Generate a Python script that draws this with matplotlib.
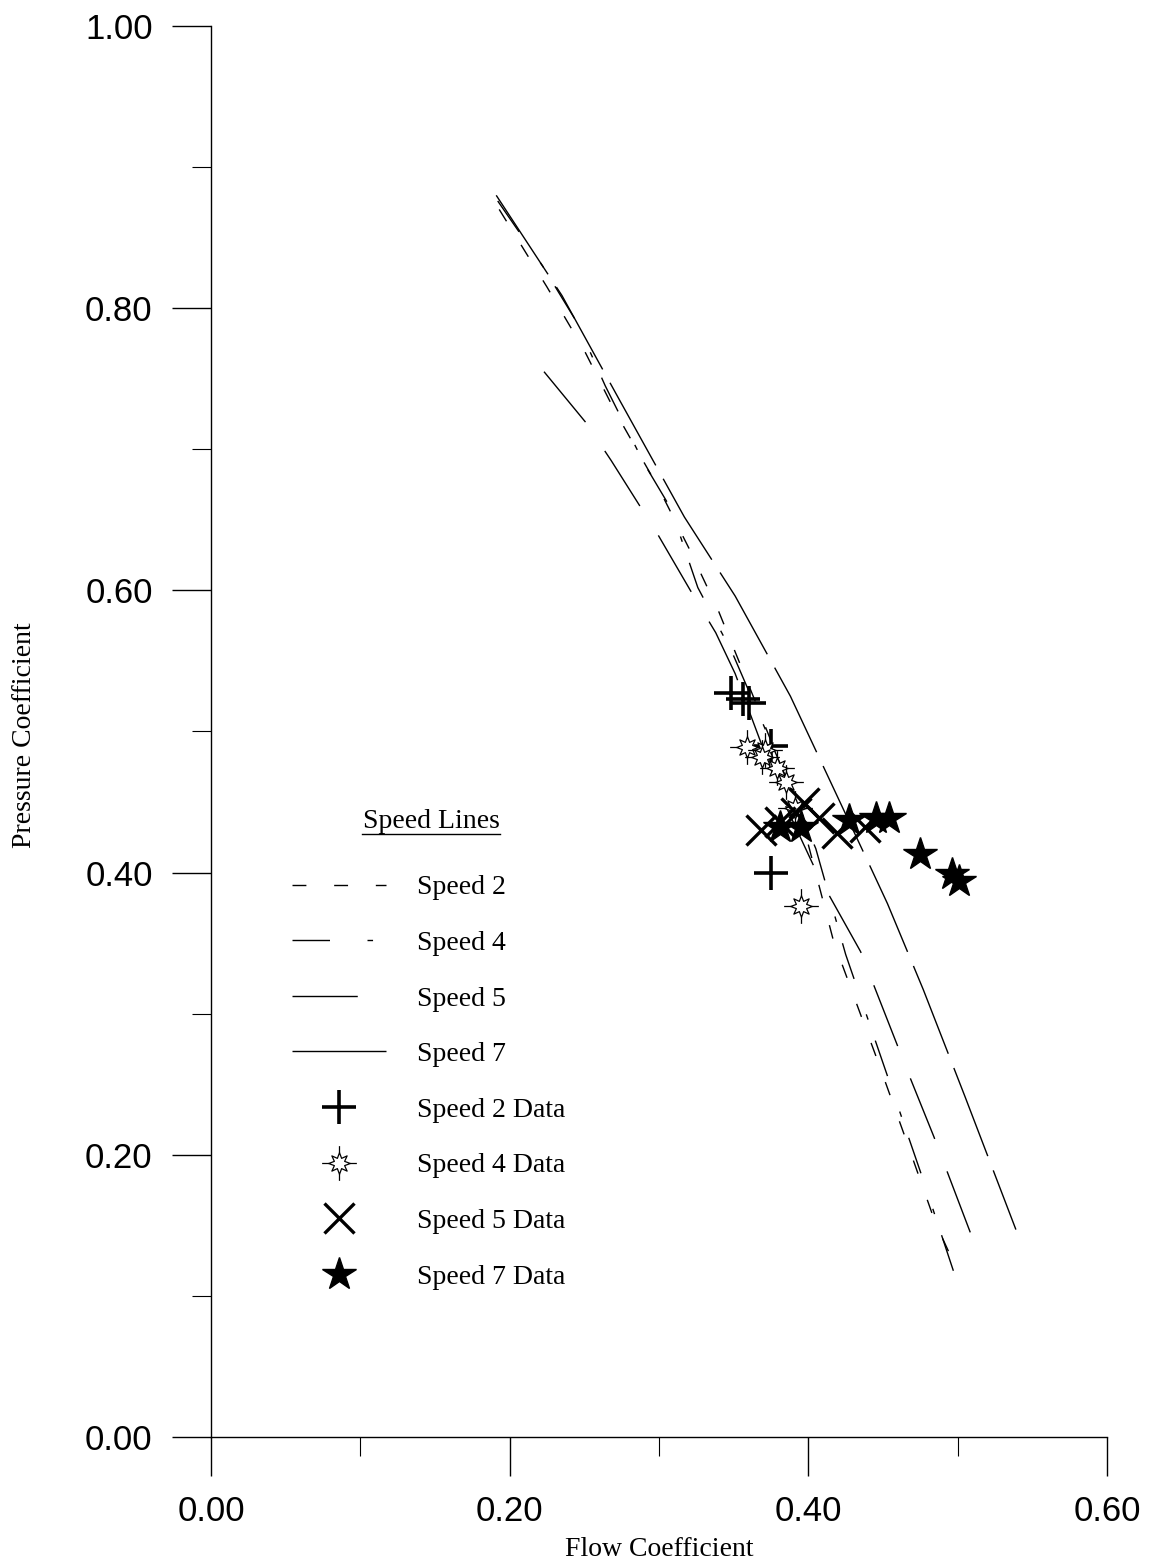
import matplotlib
matplotlib.use("Agg")
import matplotlib.pyplot as plt
import numpy as np
from matplotlib.path import Path
from matplotlib.lines import Line2D
from matplotlib.ticker import MultipleLocator

# speed lines (flow coefficient, pressure coefficient)
speed7_x = [0.191, 0.235, 0.273, 0.317, 0.351, 0.388, 0.415, 0.442, 0.453, 0.477, 0.505, 0.539]
speed7_y = [0.880, 0.809, 0.736, 0.652, 0.596, 0.525, 0.464, 0.403, 0.378, 0.317, 0.241, 0.147]

speed5_x = [0.223, 0.251, 0.268, 0.299, 0.321, 0.338, 0.351, 0.381, 0.407, 0.435, 0.468, 0.484, 0.516]
speed5_y = [0.755, 0.719, 0.692, 0.640, 0.600, 0.570, 0.541, 0.456, 0.397, 0.344, 0.255, 0.213, 0.124]

speed4_x = [0.192, 0.222, 0.245, 0.264, 0.290, 0.308, 0.326, 0.349, 0.380, 0.405, 0.425, 0.451, 0.477, 0.498]
speed4_y = [0.876, 0.830, 0.790, 0.745, 0.690, 0.658, 0.602, 0.556, 0.480, 0.417, 0.342, 0.262, 0.182, 0.115]

speed2_x = [0.193, 0.225, 0.250, 0.270, 0.300, 0.320, 0.340, 0.365, 0.395, 0.417, 0.447, 0.466, 0.485, 0.495]
speed2_y = [0.870, 0.815, 0.770, 0.728, 0.672, 0.630, 0.585, 0.520, 0.440, 0.351, 0.265, 0.209, 0.152, 0.129]

# measured data points
d2_x = [0.348, 0.356, 0.360, 0.375, 0.375]
d2_y = [0.527, 0.523, 0.520, 0.490, 0.400]

d4_x = [0.359, 0.371, 0.369, 0.379, 0.385, 0.391, 0.395]
d4_y = [0.489, 0.487, 0.482, 0.474, 0.464, 0.446, 0.376]

d5_x = [0.368, 0.381, 0.392, 0.397, 0.407, 0.419, 0.438]
d5_y = [0.430, 0.436, 0.442, 0.449, 0.439, 0.428, 0.432]

d7_x = [0.381, 0.395, 0.427, 0.445, 0.454, 0.475, 0.496, 0.501]
d7_y = [0.432, 0.432, 0.437, 0.439, 0.439, 0.413, 0.399, 0.394]

line_labels = ['Speed 2', 'Speed 4', 'Speed 5', 'Speed 7']
data_labels = ['Speed 2 Data', 'Speed 4 Data', 'Speed 5 Data', 'Speed 7 Data']


def hollow_star():
    # 8 point star outline with four spokes
    verts, codes = [], []
    n = 8
    for i in range(2 * n):
        ang = np.pi / 2 + i * np.pi / n
        r = 0.62 if i % 2 == 0 else 0.32
        verts.append((r * np.cos(ang), r * np.sin(ang)))
        codes.append(Path.MOVETO if i == 0 else Path.LINETO)
    verts.append(verts[0])
    codes.append(Path.CLOSEPOLY)
    for a in [0, 90, 180, 270]:
        t = np.deg2rad(a)
        verts += [(0.6 * np.cos(t), 0.6 * np.sin(t)), (1.0 * np.cos(t), 1.0 * np.sin(t))]
        codes += [Path.MOVETO, Path.LINETO]
    return Path(verts, codes)


serif = 'Liberation Serif'
sans = 'Liberation Sans'

fig = plt.figure(figsize=(11.54, 15.66), dpi=100)
ax = fig.add_axes([211 / 1154, 1 - 1437 / 1566, 896 / 1154, 1411 / 1566])

styles = {
    'Speed 2': (0, (10, 20)),
    'Speed 4': (0, (27, 27, 4, 16)),
    'Speed 5': (0, (47, 25)),
    'Speed 7': (0, (68, 11)),
}
curves = {
    'Speed 2': (speed2_x, speed2_y),
    'Speed 4': (speed4_x, speed4_y),
    'Speed 5': (speed5_x, speed5_y),
    'Speed 7': (speed7_x, speed7_y),
}
handles = []
for name in line_labels:
    x, y = curves[name]
    h, = ax.plot(x, y, color='black', lw=1.0, linestyle=styles[name], label=name)
    handles.append(h)

star4 = hollow_star()
h2, = ax.plot(d2_x, d2_y, ls='none', marker='+', ms=25, mew=2.6, color='black')
h4, = ax.plot(d4_x, d4_y, ls='none', marker=star4, ms=25, mew=0.9, mfc='white', mec='black')
h5, = ax.plot(d5_x, d5_y, ls='none', marker='x', ms=22, mew=2.4, color='black')
h7, = ax.plot(d7_x, d7_y, ls='none', marker='*', ms=25, color='black')
handles += [h2, h4, h5, h7]

ax.set_xlim(0, 0.6)
ax.set_ylim(0, 1.0)
ax.xaxis.set_major_locator(MultipleLocator(0.2))
ax.xaxis.set_minor_locator(MultipleLocator(0.1))
ax.yaxis.set_major_locator(MultipleLocator(0.2))
ax.yaxis.set_minor_locator(MultipleLocator(0.1))
ax.xaxis.set_major_formatter(matplotlib.ticker.FormatStrFormatter('%.2f'))
ax.yaxis.set_major_formatter(matplotlib.ticker.FormatStrFormatter('%.2f'))

ax.spines['top'].set_visible(False)
ax.spines['right'].set_visible(False)
for s in ['left', 'bottom']:
    ax.spines[s].set_linewidth(1.0)

ax.tick_params(which='major', direction='out', length=28, width=1.0, pad=14)
ax.tick_params(which='minor', direction='out', length=14, width=0.8)
for lab in ax.get_xticklabels() + ax.get_yticklabels():
    lab.set_fontfamily(sans)
    lab.set_fontsize(25)

ax.set_xlabel('Flow Coefficient', fontfamily=serif, fontsize=20)
ax.set_ylabel('Pressure Coefficient', fontfamily=serif, fontsize=20)
ax.xaxis.set_label_coords(0.5, -0.071)
ax.yaxis.set_label_coords(-0.194, 0.4975)

leg = ax.legend(handles, line_labels + data_labels, loc='upper left',
                bbox_to_anchor=(292 / 1154, 1 - 875 / 1566), bbox_transform=fig.transFigure,
                frameon=False, borderpad=0, borderaxespad=0, handlelength=3.4,
                handletextpad=1.1, labelspacing=1.085, prop={'family': serif, 'size': 20})

fig.text(431 / 1154, 1 - 822 / 1566, 'Speed Lines', ha='center', va='center',
         fontfamily=serif, fontsize=20)
fig.add_artist(Line2D([362 / 1154, 500 / 1154], [1 - 834 / 1566, 1 - 834 / 1566],
                      color='black', lw=1.0, transform=fig.transFigure))

fig.savefig('out.png', dpi=100)
